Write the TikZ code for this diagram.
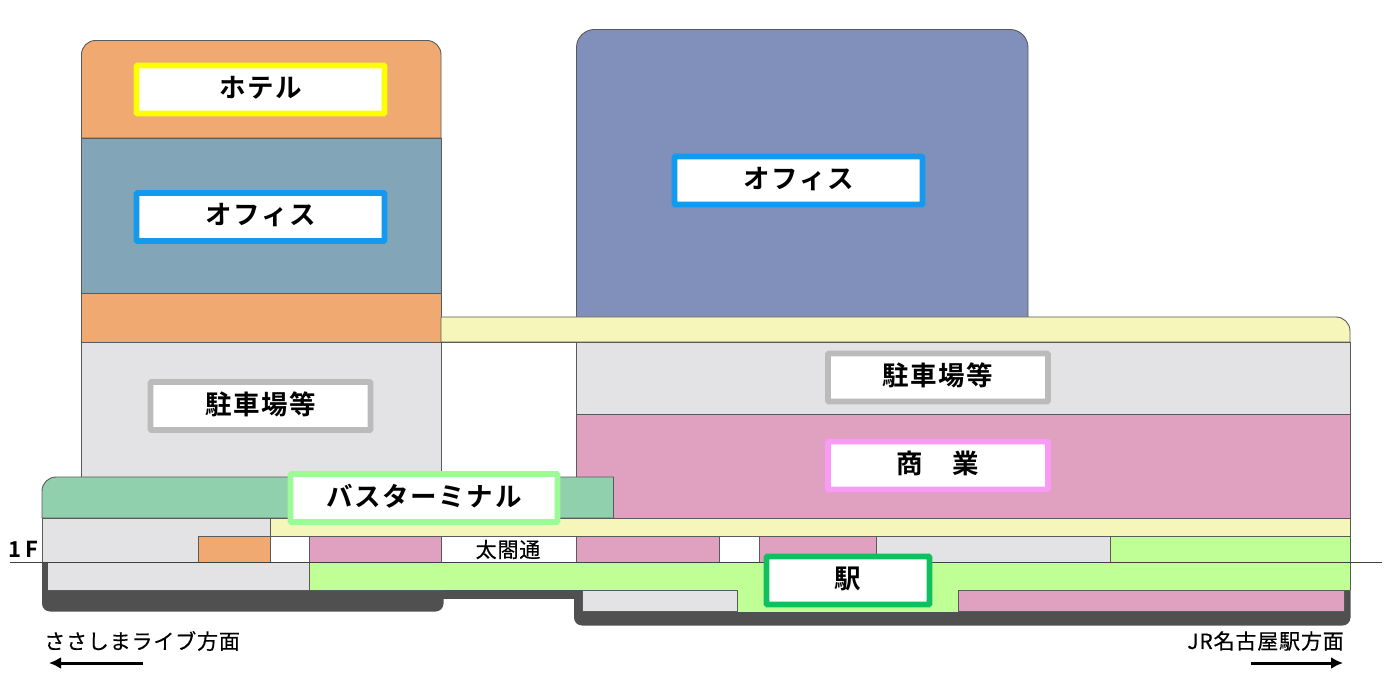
\documentclass[tikz,border=0pt]{standalone}
\usepackage{fontspec}
\setmainfont{Noto Sans CJK JP}
\newfontfamily\lblfont[LetterSpace=6,BoldFont={Noto Sans CJK JP Bold}]{Noto Sans CJK JP}
\newfontfamily\smallfont[LetterSpace=4,FakeBold=0.35]{Noto Sans CJK JP}
\definecolor{cOrange}{HTML}{F0A970}
\definecolor{cOffL}{HTML}{82A5B8}
\definecolor{cOffR}{HTML}{8090BA}
\definecolor{cGrey}{HTML}{E3E3E6}
\definecolor{cPink}{HTML}{E0A0C0}
\definecolor{cYellow}{HTML}{F7F6BA}
\definecolor{cBus}{HTML}{90D0AC}
\definecolor{cStation}{HTML}{C0FF96}
\definecolor{cDark}{HTML}{505050}
\definecolor{cEdge}{HTML}{5A5A5A}
\definecolor{bYellow}{HTML}{FFFF00}
\definecolor{bBlue}{HTML}{1499F0}
\definecolor{bGrey}{HTML}{BBBBBB}
\definecolor{bPink}{HTML}{F99AF5}
\definecolor{bLime}{HTML}{9CFB96}
\definecolor{bGreen}{HTML}{10C060}
\usetikzlibrary{arrows.meta}
\tikzset{
  block/.style={draw=cEdge,line width=0.9pt},
  tag/.style={draw=#1,fill=white,line width=5.8pt,rounded corners=1pt,inner sep=0pt,
    minimum height=48pt,text height=22pt,text depth=6pt,
    font=\lblfont\fontsize{26.5pt}{29pt}\selectfont\bfseries,text=black},
  note/.style={inner sep=0pt,font=\smallfont\fontsize{21pt}{24pt}\selectfont,text=black},
  way/.style={line width=3pt,-{Latex[length=12pt,width=12pt]},black}
}
\begin{document}
\begin{tikzpicture}[x=1pt,y=-1pt]
\useasboundingbox (0,0) rectangle (1392,692);
\fill[white] (0,0) rectangle (1392,692);
% basement slab
\fill[cDark] (42,562) [rounded corners=8pt] -- (42,611.5) -- (443.5,611.5) [sharp corners] -- (443.5,562) -- cycle;
\fill[cDark] (430,562) rectangle (590,598.5);
\fill[cDark] (574,562) [rounded corners=8pt] -- (574,625.5) -- (1350.5,625.5) [sharp corners] -- (1350.5,562) -- cycle;
% left tower
\draw[block,fill=cOrange] (81.5,138) [rounded corners=14pt] -- (81.5,40.5) -- (441,40.5) [sharp corners] -- (441,138) -- cycle;
\draw[block,fill=cOffL] (81.5,138) rectangle (441,293);
\draw[block,fill=cOrange] (81.5,293) rectangle (441,342);
\draw[block,fill=cGrey] (81.5,342) rectangle (441,477);
% right tower
\draw[block,fill=cOffR] (576.5,317) [rounded corners=18pt] -- (576.5,29.5) -- (1028,29.5) [sharp corners] -- (1028,317);
% podium
\draw[block,fill=cYellow] (441,342) [sharp corners] -- (441,317) [rounded corners=14pt] -- (1350,317) [sharp corners] -- (1350,342) -- cycle;
\draw[block,fill=white] (441,342) rectangle (576.5,477);
\draw[block,fill=cGrey] (576.5,342) rectangle (1350,414);
\draw[block,fill=cPink] (576.5,414) rectangle (1350,518);
% bus terminal
\draw[block,fill=cBus] (42,518) [rounded corners=14pt] -- (42,477) [sharp corners] -- (613.5,477) -- (613.5,518) -- cycle;
% ground floor
\draw[block,fill=cGrey] (42,518) rectangle (270,562);
\draw[block,fill=cYellow] (270,518) rectangle (1350,536);
\draw[block,fill=cOrange] (198,536) rectangle (270,562);
\draw[block,fill=white] (270,536) rectangle (309.5,562);
\draw[block,fill=cPink] (309.5,536) rectangle (441,562);
\draw[block,fill=white] (441,536) rectangle (576.5,562);
\draw[block,fill=cPink] (576.5,536) rectangle (719,562);
\draw[block,fill=white] (719,536) rectangle (759,562);
\draw[block,fill=cPink] (759,536) rectangle (876,562);
\draw[block,fill=cGrey] (876,536) rectangle (1110,562);
\draw[block,fill=cStation] (1110,536) rectangle (1350,562);
% underground
\fill[cGrey] (48,562) rectangle (309.5,590);
\draw[cEdge,line width=0.7pt] (48,590.3) -- (309.5,590.3);
\fill[cStation] (309.5,562) rectangle (1350,590);
\fill[cStation] (737,590) rectangle (958,611.5);
\draw[cEdge,line width=0.7pt] (309.5,562) -- (309.5,590) (309.5,590.3) -- (443,590.3) (1350,562) -- (1350,590);
\draw[block,fill=cGrey] (582.5,590.5) rectangle (737,611.5);
\draw[block,fill=cPink] (958,590.5) rectangle (1344,611.5);
\draw[cEdge,line width=0.7pt] (958,590.5) -- (1350,590.5);
% 1F line
\coordinate (lineL) at (10,562);
\coordinate (lineR) at (1382,562);
\draw[black!75,line width=0.9pt] (lineL) -- (lineR);
% labels
\node[tag=bYellow,minimum width=248pt] (hotel) at (260.5,89.5) {ホテル};
\node[tag=bBlue,minimum width=248pt] (officeL) at (260.5,217) {オフィス};
\node[tag=bBlue,minimum width=248pt] (officeR) at (798.5,180.5) {オフィス};
\node[tag=bGrey,minimum width=220pt] (parkL) at (260.5,406) {駐車場等};
\node[tag=bGrey,minimum width=220pt] (parkR) at (938,377.5) {駐車場等};
\node[tag=bPink,minimum width=220pt] (shop) at (938,465.5) {商　業};
\node[tag=bLime,minimum width=267pt] (bus) at (424,498) {バスターミナル};
\node[tag=bGreen,minimum width=163pt] (station) at (848,580.5) {駅};
\node[note] (taiko) at (508,549.5) {太閤通};
\node[note,font=\lblfont\fontsize{22pt}{24pt}\selectfont\bfseries] (oneF) at (23.5,549) {1\,F};
\node[note,anchor=west] (west) at (44,641) {ささしまライブ方面};
\node[note,anchor=east] (east) at (1344,641) {JR名古屋駅方面};
% direction arrows
\coordinate (wA) at (143,663);
\coordinate (wB) at (49,663);
\coordinate (eA) at (1251,663);
\coordinate (eB) at (1343,663);
\draw[way] (wA) -- (wB);
\draw[way] (eA) -- (eB);
\end{tikzpicture}
\end{document}
